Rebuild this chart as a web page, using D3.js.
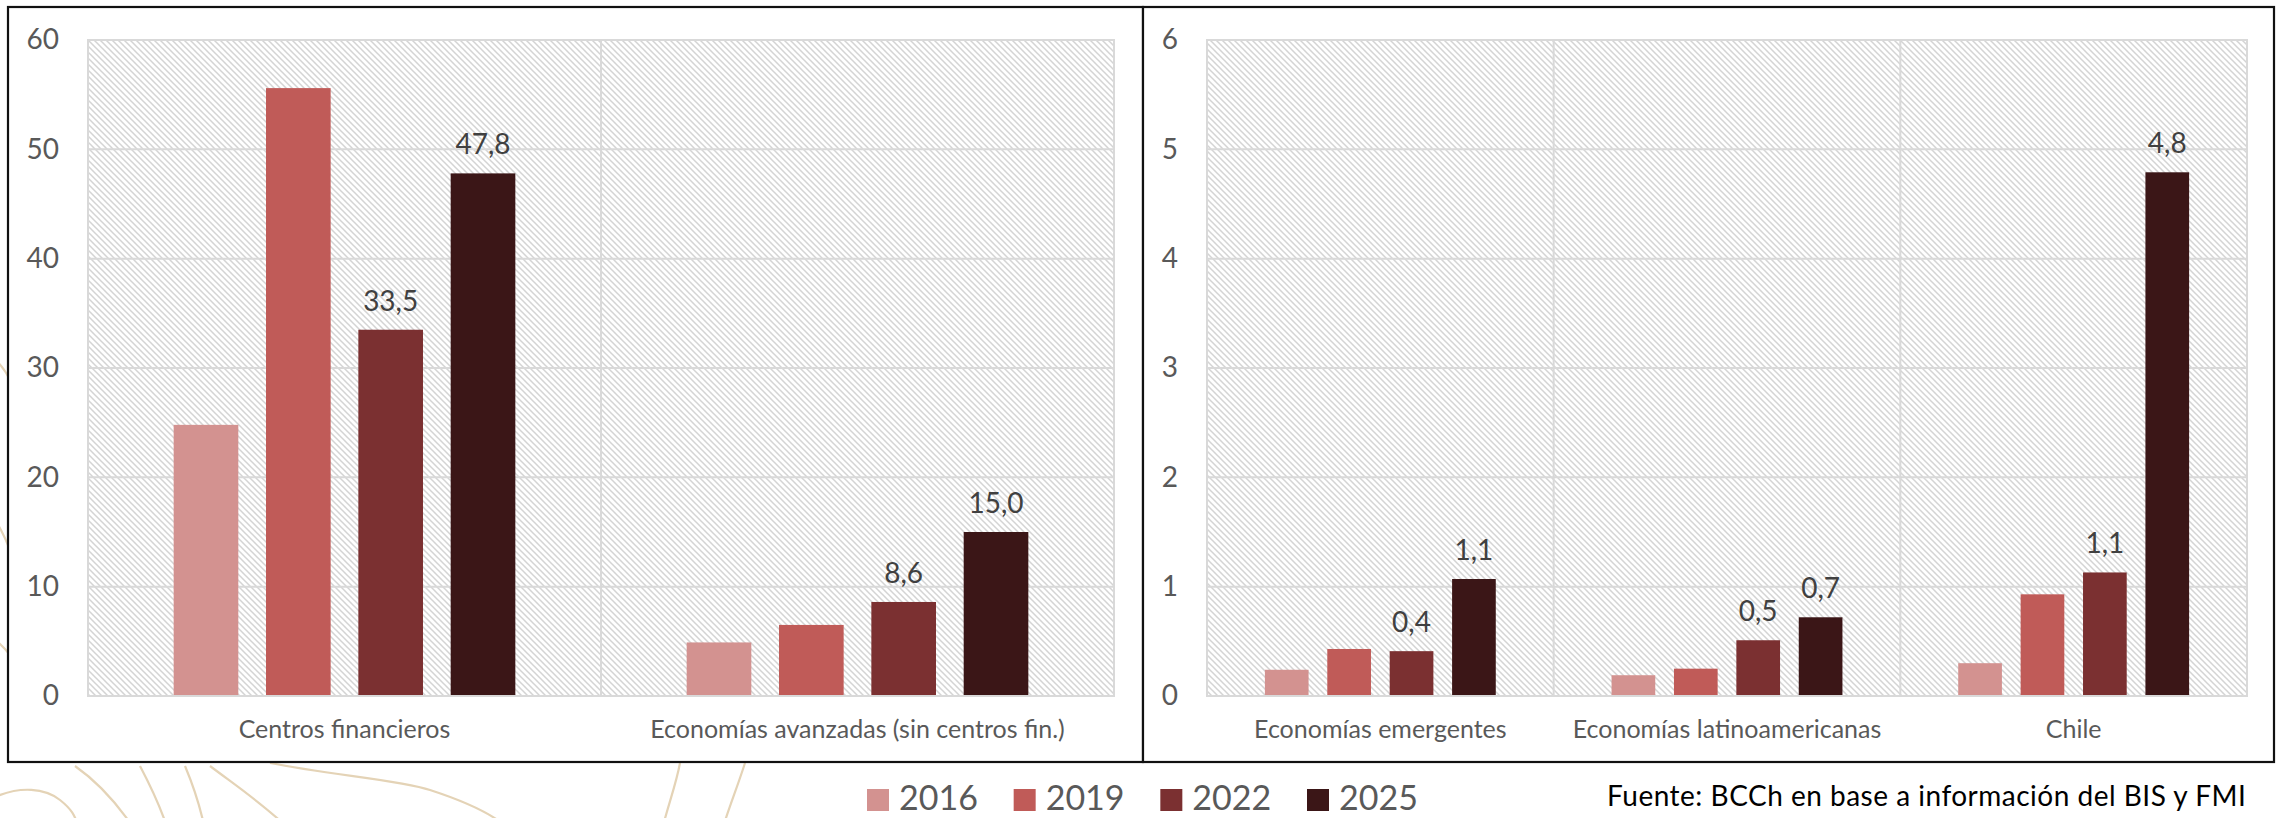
<!DOCTYPE html>
<html><head><meta charset="utf-8">
<script src="https://cdn.jsdelivr.net/npm/d3@7"></script>
<style>html,body{margin:0;padding:0;background:#fff;overflow:hidden;} svg{display:block;font-family:Lato,"Open Sans",sans-serif;}</style>
</head><body><svg id="chart" width="2277" height="818"></svg>
<script>
// ---- data ----
const years = ["2016", "2019", "2022", "2025"];
const yearColors = ["#d39290", "#c05b58", "#7b3031", "#3b1617"];
const labeledYears = ["2022", "2025"];

const leftCategories = ["Centros financieros", "Economías avanzadas (sin centros fin.)"];
const left2016 = [24.8, 4.9];
const left2019 = [55.6, 6.5];
const left2022 = [33.5, 8.6];
const left2025 = [47.8, 15.0];
const leftTicks = [0, 10, 20, 30, 40, 50, 60];

const rightCategories = ["Economías emergentes", "Economías latinoamericanas", "Chile"];
const right2016 = [0.24, 0.19, 0.30];
const right2019 = [0.43, 0.25, 0.93];
const right2022 = [0.41, 0.51, 1.13];
const right2025 = [1.07, 0.72, 4.79];
const rightTicks = [0, 1, 2, 3, 4, 5, 6];

const sourceText = "Fuente: BCCh en base a información del BIS y FMI";

// ---- drawing ----
const svg = d3.select("#chart");
const defs = svg.append("defs");
const pat = defs.append("pattern").attr("id", "hatch").attr("width", 6).attr("height", 6)
  .attr("patternUnits", "userSpaceOnUse");
pat.append("rect").attr("width", 6).attr("height", 6).attr("fill", "#ffffff");
pat.append("path").attr("d", "M0,0L6,6M-1,5L1,7M5,-1L7,1")
  .attr("stroke", "#d4d4d4").attr("stroke-width", 1.5);

// decorative background curves
const deco = svg.append("g").attr("fill", "none").attr("stroke", "#e4d3b6").attr("stroke-width", 2.2);
["M-5,797 C20,786 45,788 60,800 S75,818 80,830",
 "M75,766 C95,780 115,800 135,830",
 "M140,766 C150,785 160,805 168,830",
 "M185,766 C193,785 200,805 205,830",
 "M210,766 C235,785 265,805 290,830",
 "M270,763 C330,775 400,780 430,790 C470,803 495,815 510,830",
 "M680,763 C676,785 668,805 662,830",
 "M745,763 C738,785 730,805 722,830",
 "M-5,360 C2,365 6,372 10,380",
 "M-5,520 C2,530 6,540 10,550",
 "M-5,640 C2,645 6,650 10,655"
].forEach(d => deco.append("path").attr("d", d));

// outer boxes
svg.append("rect").attr("x", 8).attr("y", 7).attr("width", 1135).attr("height", 755)
  .attr("fill", "#fff").attr("stroke", "#111").attr("stroke-width", 2.2);
svg.append("rect").attr("x", 1143).attr("y", 7).attr("width", 1131).attr("height", 755)
  .attr("fill", "#fff").attr("stroke", "#111").attr("stroke-width", 2.2);

const fmt = v => d3.format(".1f")(v).replace(".", ",");

function drawPanel(cfg) {
  const g = svg.append("g");
  const x0 = d3.scaleBand().domain(cfg.categories).range([cfg.left, cfg.right]).padding(0);
  const bw = x0.bandwidth();
  const m = bw * 0.167;
  const x1 = d3.scaleBand().domain(years).range([m, bw - m]).paddingInner(0.3).paddingOuter(0);
  const y = d3.scaleLinear().domain([cfg.ticks[0], cfg.ticks[cfg.ticks.length - 1]]).range([cfg.bottom, cfg.top]);

  // plot background
  g.append("rect").attr("x", cfg.left).attr("y", cfg.top)
    .attr("width", cfg.right - cfg.left).attr("height", cfg.bottom - cfg.top)
    .attr("fill", "url(#hatch)");
  // horizontal gridlines
  g.append("g").selectAll("line").data(cfg.ticks).join("line")
    .attr("x1", cfg.left).attr("x2", cfg.right)
    .attr("y1", d => y(d)).attr("y2", d => y(d))
    .attr("stroke", "#d9d9d9").attr("stroke-width", 2);
  // vertical gridlines at category boundaries
  const bounds = cfg.categories.map(c => x0(c)).concat([cfg.right]);
  g.append("g").selectAll("line").data(bounds).join("line")
    .attr("x1", d => d).attr("x2", d => d)
    .attr("y1", cfg.top).attr("y2", cfg.bottom)
    .attr("stroke", "#d9d9d9").attr("stroke-width", 2);

  // bars
  const series = years.map((yr, i) => ({ year: yr, color: yearColors[i], values: cfg.series[i] }));
  const sg = g.selectAll("g.series").data(series).join("g").attr("class", "series").attr("fill", d => d.color);
  sg.selectAll("rect").data(d => d.values.map((v, j) => ({ v, cat: cfg.categories[j], year: d.year })))
    .join("rect")
    .attr("x", d => x0(d.cat) + x1(d.year))
    .attr("width", x1.bandwidth())
    .attr("y", d => y(d.v))
    .attr("height", d => y(0) - y(d.v));

  // data labels
  const lab = [];
  series.forEach(s => { if (labeledYears.includes(s.year)) s.values.forEach((v, j) => lab.push({ v, cat: cfg.categories[j], year: s.year })); });
  g.append("g").selectAll("text").data(lab).join("text")
    .attr("x", d => x0(d.cat) + x1(d.year) + x1.bandwidth() / 2)
    .attr("y", d => y(d.v) - 19)
    .attr("text-anchor", "middle").attr("font-size", 28).attr("fill", "#404040")
    .text(d => fmt(d.v));

  // y axis
  const ya = d3.axisLeft(y).tickValues(cfg.ticks).tickSize(0).tickPadding(29).tickFormat(d3.format("d"));
  const yg = g.append("g").attr("transform", `translate(${cfg.left},0)`).call(ya);
  yg.select(".domain").remove();
  yg.selectAll("text").attr("font-size", 28).attr("fill", "#595959").attr("font-family", "Lato, 'Open Sans', sans-serif");

  // x axis labels
  const xa = d3.axisBottom(x0).tickSize(0).tickPadding(24);
  const xg = g.append("g").attr("transform", `translate(0,${cfg.bottom})`).call(xa);
  xg.select(".domain").remove();
  xg.selectAll("text").attr("font-size", 25).attr("fill", "#595959").attr("font-family", "Lato, 'Open Sans', sans-serif");

  // plot border
  g.append("rect").attr("x", cfg.left).attr("y", cfg.top)
    .attr("width", cfg.right - cfg.left).attr("height", cfg.bottom - cfg.top)
    .attr("fill", "none").attr("stroke", "#d9d9d9").attr("stroke-width", 2);
}

drawPanel({ categories: leftCategories, series: [left2016, left2019, left2022, left2025], ticks: leftTicks,
  left: 88, right: 1114, top: 40, bottom: 696 });
drawPanel({ categories: rightCategories, series: [right2016, right2019, right2022, right2025], ticks: rightTicks,
  left: 1207, right: 2247, top: 40, bottom: 696 });

// legend
const lg = svg.append("g");
const lx = d3.scalePoint().domain(years).range([867, 1307]);
const li = lg.selectAll("g").data(years).join("g").attr("transform", d => `translate(${lx(d)},0)`);
li.append("rect").attr("x", 0).attr("y", 789).attr("width", 22).attr("height", 22)
  .attr("fill", (d, i) => yearColors[i]);
li.append("text").attr("x", 32).attr("y", 810).attr("font-size", 34).attr("fill", "#595959").text(d => d);

// source
svg.append("text").attr("x", 1607).attr("y", 806).attr("font-size", 28).attr("letter-spacing", 0.5).attr("fill", "#000")
  .text(sourceText);
</script></body></html>
